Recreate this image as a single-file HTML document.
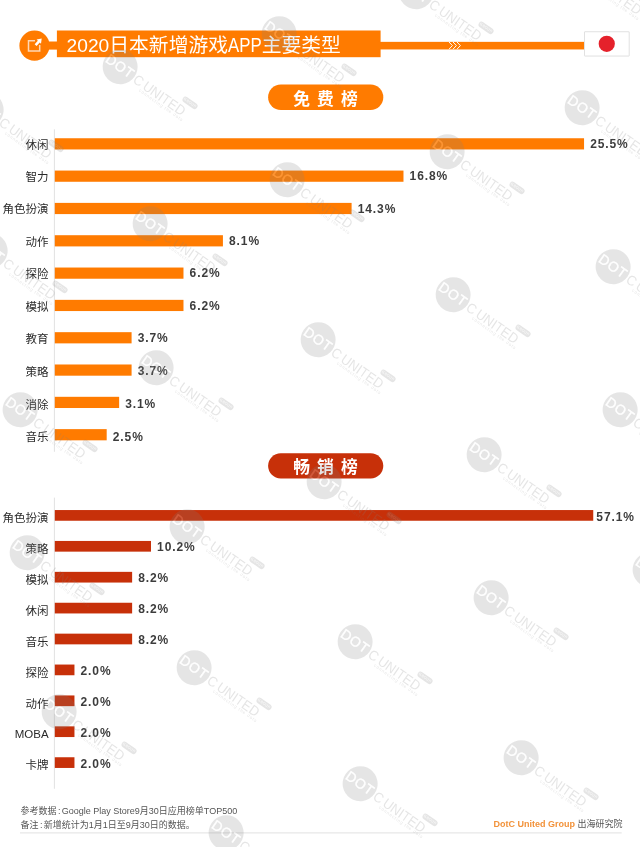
<!DOCTYPE html>
<html lang="zh">
<head>
<meta charset="utf-8">
<title>2020日本新增游戏APP主要类型</title>
<style>
html,body{margin:0;padding:0;background:#fff;}
body{width:640px;height:847px;position:relative;overflow:hidden;font-family:"Liberation Sans", "Noto Sans CJK SC", sans-serif;color:#333;}
#shapes{position:absolute;left:0;top:0;}
#title{position:absolute;left:66.6px;top:32.2px;height:26.7px;line-height:26.7px;font-size:19.8px;color:#fff;white-space:nowrap;}
.dg{font-size:19.2px;}
.sq{display:inline-block;transform:scaleX(0.85);transform-origin:0 50%;margin-right:-5.9px;}
.pill{position:absolute;left:268px;width:115px;height:25.4px;color:#fff;font-weight:bold;font-size:16.8px;line-height:30.6px;text-align:center;letter-spacing:7px;text-indent:7px;white-space:nowrap;}
.lab{position:absolute;left:0;width:48.6px;height:20px;line-height:20px;text-align:right;font-size:11.5px;color:#2a2a2a;white-space:nowrap;}
.val{position:absolute;height:20px;line-height:20px;font-size:12px;font-weight:bold;color:#3c3c3c;letter-spacing:0.9px;white-space:nowrap;}
.foot{position:absolute;left:20.5px;font-size:9px;line-height:14px;color:#555;white-space:nowrap;}
.co{padding:0 1.4px;}
#brand{position:absolute;right:17.5px;top:816.5px;font-size:9px;line-height:14px;color:#555;white-space:nowrap;}
#brand b{color:#f2923a;font-size:9px;}
.wm{position:absolute;width:0;height:0;transform:rotate(35deg);opacity:0.2;pointer-events:none;}
.wm .c{position:absolute;left:-17.5px;top:-17.5px;width:35px;height:35px;border-radius:50%;background:#808080;}
.wm .d{position:absolute;left:-16px;top:-9px;width:32px;height:18px;line-height:18px;text-align:center;font-size:14px;font-weight:normal;color:#fff;-webkit-text-stroke:0.3px #fff;letter-spacing:0.5px;text-indent:0.5px;}
.wm .u{position:absolute;left:19.3px;top:-8.5px;height:18px;line-height:18px;font-size:14px;color:#808080;word-spacing:-1.5px;white-space:nowrap;transform-origin:0 50%;transform:scaleX(0.93);}
.wm .t{position:absolute;left:29.5px;top:6px;font-size:4.5px;line-height:6px;color:#808080;letter-spacing:0.75px;white-space:nowrap;}
.wm .g{position:absolute;left:69.7px;top:-12.6px;width:17.4px;height:6px;border-radius:3px;background:#808080;color:#fff;font-size:3.6px;line-height:6.2px;text-align:center;letter-spacing:0.3px;}
</style>
</head>
<body>
<svg id="shapes" width="640" height="847" viewBox="0 0 640 847">
<circle cx="34.5" cy="45.6" r="15.1" fill="#ff7b00"/>
<rect x="46" y="41.5" width="14" height="8.1" fill="#ff7b00"/>
<rect x="56.9" y="30.5" width="323.7" height="26.7" fill="#ff7b00"/>
<rect x="378" y="41.85" width="207" height="7.6" fill="#ff7b00"/>
<g transform="translate(19.6 30.6)"><path d="M15.4 10.1H8.9V20.5H20.1V14.4" fill="none" stroke="#fff" stroke-opacity="0.7" stroke-width="1.5"/><path d="M22.1 7.9L17 8.9L18.24 10.2L15.04 13.7L16.96 15.5L20.16 11.9L21.4 13.2Z" fill="#fff"/></g>
<path transform="translate(448 41.8)" d="M1 0.2L4.4 3.8L1 7.4M5 0.2L8.4 3.8L5 7.4M9 0.2L12.4 3.8L9 7.4" fill="none" stroke="#fff" stroke-width="1"/>
<rect x="584.5" y="31.75" width="44.7" height="24.3" rx="0.3" fill="#fff" stroke="#e1e1e1" stroke-width="1"/><circle cx="606.75" cy="43.8" r="8.1" fill="#e5212b"/>
<rect x="268.1" y="84.5" width="115.2" height="25.4" rx="12.7" fill="#ff7b00"/>
<rect x="268.1" y="453.2" width="115.2" height="25.3" rx="12.65" fill="#c73009"/>
<rect x="53.9" y="129.3" width="1" height="322.5" fill="#e2e2e2"/>
<rect x="53.9" y="497.6" width="1" height="291.2" fill="#e2e2e2"/>
<rect x="20" y="832.4" width="601.7" height="1" fill="#e2e2e2"/>
<rect x="54.80" y="138.25" width="529.25" height="11.20" fill="#ff7b00"/>
<rect x="54.80" y="170.57" width="348.68" height="11.20" fill="#ff7b00"/>
<rect x="54.80" y="202.89" width="296.80" height="11.20" fill="#ff7b00"/>
<rect x="54.80" y="235.21" width="168.12" height="11.20" fill="#ff7b00"/>
<rect x="54.80" y="267.53" width="128.68" height="11.20" fill="#ff7b00"/>
<rect x="54.80" y="299.85" width="128.68" height="11.20" fill="#ff7b00"/>
<rect x="54.80" y="332.17" width="76.79" height="11.20" fill="#ff7b00"/>
<rect x="54.80" y="364.49" width="76.79" height="11.20" fill="#ff7b00"/>
<rect x="54.80" y="396.81" width="64.34" height="11.20" fill="#ff7b00"/>
<rect x="54.80" y="429.13" width="51.89" height="11.20" fill="#ff7b00"/>
<rect x="54.80" y="510.05" width="538.45" height="10.70" fill="#c73009"/>
<rect x="54.80" y="540.95" width="96.19" height="10.70" fill="#c73009"/>
<rect x="54.80" y="571.85" width="77.33" height="10.70" fill="#c73009"/>
<rect x="54.80" y="602.75" width="77.33" height="10.70" fill="#c73009"/>
<rect x="54.80" y="633.65" width="77.33" height="10.70" fill="#c73009"/>
<rect x="54.80" y="664.55" width="19.66" height="10.70" fill="#c73009"/>
<rect x="54.80" y="695.45" width="19.66" height="10.70" fill="#c73009"/>
<rect x="54.80" y="726.35" width="19.66" height="10.70" fill="#c73009"/>
<rect x="54.80" y="757.25" width="19.66" height="10.70" fill="#c73009"/>
</svg>
<div id="title"><span class="dg">2020</span>日本新增游戏<span class="sq">APP</span>主要类型</div>

<div class="pill" style="top:84.5px">免费榜</div>
<div class="lab" style="top:135.05px">休闲</div>
<div class="val" style="top:134.15px;left:590.15px">25.5%</div>
<div class="lab" style="top:167.07px">智力</div>
<div class="val" style="top:166.47px;left:409.58px">16.8%</div>
<div class="lab" style="top:199.39px">角色扮演</div>
<div class="val" style="top:198.79px;left:357.70px">14.3%</div>
<div class="lab" style="top:231.71px">动作</div>
<div class="val" style="top:231.11px;left:229.02px">8.1%</div>
<div class="lab" style="top:264.03px">探险</div>
<div class="val" style="top:263.43px;left:189.58px">6.2%</div>
<div class="lab" style="top:296.65px">模拟</div>
<div class="val" style="top:295.75px;left:189.58px">6.2%</div>
<div class="lab" style="top:328.97px">教育</div>
<div class="val" style="top:328.37px;left:137.69px">3.7%</div>
<div class="lab" style="top:361.89px">策略</div>
<div class="val" style="top:361.19px;left:137.69px">3.7%</div>
<div class="lab" style="top:394.81px">消除</div>
<div class="val" style="top:393.51px;left:125.24px">3.1%</div>
<div class="lab" style="top:427.43px">音乐</div>
<div class="val" style="top:426.53px;left:112.79px">2.5%</div>

<div class="pill" style="top:453.3px">畅销榜</div>
<div class="lab" style="top:508.10px">角色扮演</div>
<div class="val" style="top:506.50px;left:596.35px">57.1%</div>
<div class="lab" style="top:539.00px">策略</div>
<div class="val" style="top:537.40px;left:157.09px">10.2%</div>
<div class="lab" style="top:569.90px">模拟</div>
<div class="val" style="top:568.30px;left:138.23px">8.2%</div>
<div class="lab" style="top:600.80px">休闲</div>
<div class="val" style="top:599.20px;left:138.23px">8.2%</div>
<div class="lab" style="top:631.70px">音乐</div>
<div class="val" style="top:630.10px;left:138.23px">8.2%</div>
<div class="lab" style="top:662.60px">探险</div>
<div class="val" style="top:661.00px;left:80.56px">2.0%</div>
<div class="lab" style="top:693.50px">动作</div>
<div class="val" style="top:691.90px;left:80.56px">2.0%</div>
<div class="lab" style="top:724.40px">MOBA</div>
<div class="val" style="top:722.80px;left:80.56px">2.0%</div>
<div class="lab" style="top:755.30px">卡牌</div>
<div class="val" style="top:753.70px;left:80.56px">2.0%</div>

<div class="foot" style="top:803.5px">参考数据<span class="co">:</span>Google Play Store9月30日应用榜单TOP500</div>
<div class="foot" style="top:817.5px">备注<span class="co">:</span>新增统计为1月1日至9月30日的数据。</div>
<div id="brand"><b>DotC United Group</b> 出海研究院</div>

<div class="wm" style="left:119.5px;top:65.5px"><i class="c"></i><b class="d">DOT</b><span class="u">C UNITED</span><span class="t">connecting the dots</span><span class="g">GROUP</span></div>
<div class="wm" style="left:279.0px;top:33.4px"><i class="c"></i><b class="d">DOT</b><span class="u">C UNITED</span><span class="t">connecting the dots</span><span class="g">GROUP</span></div>
<div class="wm" style="left:-14.0px;top:108.6px"><i class="c"></i><b class="d">DOT</b><span class="u">C UNITED</span><span class="t">connecting the dots</span><span class="g">GROUP</span></div>
<div class="wm" style="left:286.6px;top:179.0px"><i class="c"></i><b class="d">DOT</b><span class="u">C UNITED</span><span class="t">connecting the dots</span><span class="g">GROUP</span></div>
<div class="wm" style="left:415.5px;top:-8.8px"><i class="c"></i><b class="d">DOT</b><span class="u">C UNITED</span><span class="t">connecting the dots</span><span class="g">GROUP</span></div>
<div class="wm" style="left:582.3px;top:107.3px"><i class="c"></i><b class="d">DOT</b><span class="u">C UNITED</span><span class="t">connecting the dots</span><span class="g">GROUP</span></div>
<div class="wm" style="left:446.5px;top:150.5px"><i class="c"></i><b class="d">DOT</b><span class="u">C UNITED</span><span class="t">connecting the dots</span><span class="g">GROUP</span></div>
<div class="wm" style="left:149.5px;top:222.5px"><i class="c"></i><b class="d">DOT</b><span class="u">C UNITED</span><span class="t">connecting the dots</span><span class="g">GROUP</span></div>
<div class="wm" style="left:-9.8px;top:250.2px"><i class="c"></i><b class="d">DOT</b><span class="u">C UNITED</span><span class="t">connecting the dots</span><span class="g">GROUP</span></div>
<div class="wm" style="left:317.5px;top:338.6px"><i class="c"></i><b class="d">DOT</b><span class="u">C UNITED</span><span class="t">connecting the dots</span><span class="g">GROUP</span></div>
<div class="wm" style="left:156.0px;top:367.0px"><i class="c"></i><b class="d">DOT</b><span class="u">C UNITED</span><span class="t">connecting the dots</span><span class="g">GROUP</span></div>
<div class="wm" style="left:20.0px;top:408.5px"><i class="c"></i><b class="d">DOT</b><span class="u">C UNITED</span><span class="t">connecting the dots</span><span class="g">GROUP</span></div>
<div class="wm" style="left:453.4px;top:294.3px"><i class="c"></i><b class="d">DOT</b><span class="u">C UNITED</span><span class="t">connecting the dots</span><span class="g">GROUP</span></div>
<div class="wm" style="left:613.3px;top:266.3px"><i class="c"></i><b class="d">DOT</b><span class="u">C UNITED</span><span class="t">connecting the dots</span><span class="g">GROUP</span></div>
<div class="wm" style="left:620.0px;top:409.2px"><i class="c"></i><b class="d">DOT</b><span class="u">C UNITED</span><span class="t">connecting the dots</span><span class="g">GROUP</span></div>
<div class="wm" style="left:187.3px;top:525.5px"><i class="c"></i><b class="d">DOT</b><span class="u">C UNITED</span><span class="t">connecting the dots</span><span class="g">GROUP</span></div>
<div class="wm" style="left:26.8px;top:552.2px"><i class="c"></i><b class="d">DOT</b><span class="u">C UNITED</span><span class="t">connecting the dots</span><span class="g">GROUP</span></div>
<div class="wm" style="left:324.0px;top:481.0px"><i class="c"></i><b class="d">DOT</b><span class="u">C UNITED</span><span class="t">connecting the dots</span><span class="g">GROUP</span></div>
<div class="wm" style="left:483.8px;top:453.6px"><i class="c"></i><b class="d">DOT</b><span class="u">C UNITED</span><span class="t">connecting the dots</span><span class="g">GROUP</span></div>
<div class="wm" style="left:491.2px;top:596.5px"><i class="c"></i><b class="d">DOT</b><span class="u">C UNITED</span><span class="t">connecting the dots</span><span class="g">GROUP</span></div>
<div class="wm" style="left:650.0px;top:569.0px"><i class="c"></i><b class="d">DOT</b><span class="u">C UNITED</span><span class="t">connecting the dots</span><span class="g">GROUP</span></div>
<div class="wm" style="left:355.0px;top:641.0px"><i class="c"></i><b class="d">DOT</b><span class="u">C UNITED</span><span class="t">connecting the dots</span><span class="g">GROUP</span></div>
<div class="wm" style="left:194.0px;top:667.0px"><i class="c"></i><b class="d">DOT</b><span class="u">C UNITED</span><span class="t">connecting the dots</span><span class="g">GROUP</span></div>
<div class="wm" style="left:58.5px;top:710.5px"><i class="c"></i><b class="d">DOT</b><span class="u">C UNITED</span><span class="t">connecting the dots</span><span class="g">GROUP</span></div>
<div class="wm" style="left:225.5px;top:832.0px"><i class="c"></i><b class="d">DOT</b><span class="u">C UNITED</span><span class="t">connecting the dots</span><span class="g">GROUP</span></div>
<div class="wm" style="left:521.3px;top:756.5px"><i class="c"></i><b class="d">DOT</b><span class="u">C UNITED</span><span class="t">connecting the dots</span><span class="g">GROUP</span></div>
<div class="wm" style="left:360.0px;top:782.5px"><i class="c"></i><b class="d">DOT</b><span class="u">C UNITED</span><span class="t">connecting the dots</span><span class="g">GROUP</span></div>
<div class="wm" style="left:575.7px;top:-35.0px"><i class="c"></i><b class="d">DOT</b><span class="u">C UNITED</span><span class="t">connecting the dots</span><span class="g">GROUP</span></div>
</body>
</html>
